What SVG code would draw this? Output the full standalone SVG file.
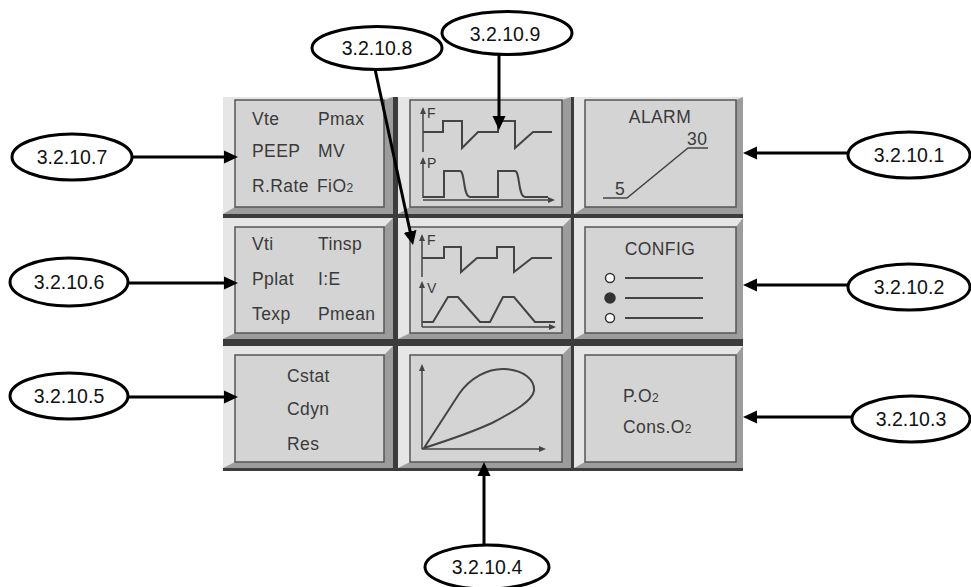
<svg xmlns="http://www.w3.org/2000/svg" width="971" height="587" viewBox="0 0 971 587">
<style>
.lt{fill:#e6e6e6}
.dk{fill:#9c9c9c}
.face{fill:#d4d4d4;stroke:#555;stroke-width:1.5}
.t{font-family:"Liberation Sans",Arial,sans-serif;font-size:17.5px;fill:#3a3a3a;letter-spacing:0.4px}
.ax{font-family:"Liberation Sans",Arial,sans-serif;font-size:14px;fill:#3a3a3a}
.w{fill:none;stroke:#444;stroke-width:2;stroke-linejoin:miter}
.axl{fill:none;stroke:#444;stroke-width:1.5}
.ell{fill:#fff;stroke:#000;stroke-width:3}
.lbl{font-family:"Liberation Sans",Arial,sans-serif;font-size:19.5px;fill:#111;text-anchor:middle}
.con{fill:none;stroke:#000;stroke-width:3}
</style>
<defs>
<marker id="ah" markerUnits="userSpaceOnUse" markerWidth="16" markerHeight="16" viewBox="0 -8 16 16" refX="1" refY="0" orient="auto"><path d="M0,-6.5 L14,0 L0,6.5 Z" fill="#000"/></marker>
<marker id="sa" markerUnits="userSpaceOnUse" markerWidth="9" markerHeight="9" viewBox="0 -4.5 9 9" refX="1" refY="0" orient="auto"><path d="M0,-3 L7,0 L0,3 Z" fill="#444"/></marker>
</defs>
<rect x="0" y="0" width="971" height="587" fill="#fff"/>
<rect id="panel" x="223" y="97" width="520" height="374" fill="#3c3c3c"/>

<!-- row 1 -->
<g id="cell-r1c1">
<rect class="dk" x="223" y="97" width="170" height="117"/>
<polygon class="lt" points="223,97 393,97 384,100 235,100 235,207 223,214"/>
<rect class="face" x="235" y="100" width="149" height="107"/>
<text class="t" x="252" y="125">Vte</text><text class="t" x="318" y="125">Pmax</text>
<text class="t" x="252" y="157">PEEP</text><text class="t" x="318" y="157">MV</text>
<text class="t" x="252" y="192">R.Rate</text><text class="t" x="317" y="192">FiO<tspan font-size="12">2</tspan></text>
</g>
<g id="cell-r1c2">
<rect class="dk" x="398" y="97" width="173" height="117"/>
<polygon class="lt" points="398,97 571,97 562,100 410,100 410,207 398,214"/>
<rect class="face" x="410" y="100" width="152" height="107"/>
<line class="axl" x1="423" y1="152" x2="423" y2="113" marker-end="url(#sa)"/>
<text class="ax" x="427" y="118">F</text>
<path class="w" d="M423,132 H443 V121 H462 V148 L478,132 H498 V121 H515 V148 L533,132 H552"/>
<line class="axl" x1="423" y1="198" x2="423" y2="163" marker-end="url(#sa)"/>
<text class="ax" x="427" y="168">P</text>
<path class="w" d="M423,197 H444 V171 H460 C465,171 463,197 470,197 H498 V171 H515 C520,171 518,197 525,197 H548"/>
<line class="axl" x1="423" y1="200" x2="549" y2="200" marker-end="url(#sa)"/>
</g>
<g id="cell-r1c3">
<rect class="dk" x="574" y="97" width="169" height="117"/>
<polygon class="lt" points="574,97 743,97 736,100 585,100 585,207 574,214"/>
<rect class="face" x="585" y="100" width="151" height="107"/>
<text class="t" x="660" y="123" text-anchor="middle">ALARM</text>
<polyline class="axl" points="603,198 627,198 688,148 708,148"/>
<text class="t" x="615" y="195">5</text>
<text class="t" x="687" y="145">30</text>
</g>

<!-- row 2 -->
<g id="cell-r2c1">
<rect class="dk" x="223" y="218" width="170" height="121"/>
<polygon class="lt" points="223,218 393,218 384,227 235,227 235,333 223,339"/>
<rect class="face" x="235" y="227" width="149" height="106"/>
<text class="t" x="252" y="250">Vti</text><text class="t" x="318" y="250">Tinsp</text>
<text class="t" x="252" y="285">Pplat</text><text class="t" x="318" y="285">I:E</text>
<text class="t" x="252" y="320">Texp</text><text class="t" x="318" y="320">Pmean</text>
</g>
<g id="cell-r2c2">
<rect class="dk" x="398" y="218" width="173" height="121"/>
<polygon class="lt" points="398,218 571,218 562,227 410,227 410,333 398,339"/>
<rect class="face" x="410" y="227" width="152" height="106"/>
<line class="axl" x1="422" y1="277" x2="422" y2="240" marker-end="url(#sa)"/>
<text class="ax" x="427" y="245">F</text>
<path class="w" d="M422,258 H444 V247 H461 V272 L477,258 H497 V247 H514 V272 L532,258 H552"/>
<line class="axl" x1="422" y1="327" x2="422" y2="287" marker-end="url(#sa)"/>
<text class="ax" x="427" y="293">V</text>
<path class="w" d="M422,322 H433 L448,297 H458 L480,322 H490 L503,297 H514 L535,322 H555"/>
<line class="axl" x1="422" y1="327" x2="550" y2="327" marker-end="url(#sa)"/>
</g>
<g id="cell-r2c3">
<rect class="dk" x="574" y="218" width="169" height="121"/>
<polygon class="lt" points="574,218 743,218 736,227 585,227 585,333 574,339"/>
<rect class="face" x="585" y="227" width="151" height="106"/>
<text class="t" x="660" y="255" text-anchor="middle">CONFIG</text>
<circle cx="610" cy="278" r="4.5" fill="#fff" stroke="#333" stroke-width="1.5"/>
<circle cx="610" cy="298" r="5" fill="#333" stroke="#333" stroke-width="1.5"/>
<circle cx="610" cy="318" r="4.5" fill="#fff" stroke="#333" stroke-width="1.5"/>
<line class="w" x1="625" y1="278" x2="703" y2="278"/>
<line class="w" x1="625" y1="298" x2="703" y2="298"/>
<line class="w" x1="625" y1="318" x2="703" y2="318"/>
</g>

<!-- row 3 -->
<g id="cell-r3c1">
<rect class="dk" x="223" y="346" width="170" height="122"/>
<polygon class="lt" points="223,346 393,346 384,355 235,355 235,462 223,468"/>
<rect class="face" x="235" y="355" width="149" height="107"/>
<text class="t" x="287" y="382">Cstat</text>
<text class="t" x="287" y="415">Cdyn</text>
<text class="t" x="287" y="450">Res</text>
</g>
<g id="cell-r3c2">
<rect class="dk" x="398" y="346" width="173" height="122"/>
<polygon class="lt" points="398,346 571,346 562,355 410,355 410,462 398,468"/>
<rect class="face" x="410" y="355" width="152" height="107"/>
<line class="axl" x1="422" y1="449" x2="422" y2="370" marker-end="url(#sa)"/>
<line class="axl" x1="422" y1="449" x2="540" y2="449" marker-end="url(#sa)"/>
<path class="w" d="M424,448 L459,394 C470,378 488,368 505,369 C524,370 535,380 534,391 C532,401 515,411 492,423 C470,433 446,441 424,448 Z"/>
</g>
<g id="cell-r3c3">
<rect class="dk" x="574" y="346" width="169" height="122"/>
<polygon class="lt" points="574,346 743,346 736,355 585,355 585,462 574,468"/>
<rect class="face" x="585" y="355" width="151" height="107"/>
<text class="t" x="623" y="402">P.O<tspan font-size="12">2</tspan></text>
<text class="t" x="623" y="433">Cons.O<tspan font-size="12">2</tspan></text>
</g>

<!-- connectors -->
<g id="connectors">
<line class="con" x1="132" y1="157" x2="225" y2="157" marker-end="url(#ah)"/>
<line class="con" x1="128" y1="283" x2="225" y2="283" marker-end="url(#ah)"/>
<line class="con" x1="128" y1="397" x2="225" y2="397" marker-end="url(#ah)"/>
<line class="con" x1="847" y1="153" x2="756" y2="153" marker-end="url(#ah)"/>
<line class="con" x1="847" y1="285" x2="756" y2="285" marker-end="url(#ah)"/>
<line class="con" x1="851" y1="417" x2="756" y2="417" marker-end="url(#ah)"/>
<line class="con" x1="375" y1="69" x2="410.3" y2="232.3" marker-end="url(#ah)"/>
<line class="con" x1="499" y1="55" x2="499" y2="117" marker-end="url(#ah)"/>
<line class="con" x1="484" y1="545" x2="484" y2="475" marker-end="url(#ah)"/>
</g>

<!-- label nodes -->
<g id="n-3.2.10.7"><ellipse class="ell" cx="72" cy="157" rx="60" ry="23"/><text class="lbl" x="72" y="164">3.2.10.7</text></g>
<g id="n-3.2.10.6"><ellipse class="ell" cx="69" cy="282" rx="59" ry="24"/><text class="lbl" x="69" y="289">3.2.10.6</text></g>
<g id="n-3.2.10.5"><ellipse class="ell" cx="69" cy="396" rx="59" ry="23"/><text class="lbl" x="69" y="403">3.2.10.5</text></g>
<g id="n-3.2.10.8"><ellipse class="ell" cx="377" cy="48" rx="65" ry="21.5"/><text class="lbl" x="377" y="55">3.2.10.8</text></g>
<g id="n-3.2.10.9"><ellipse class="ell" cx="507" cy="33" rx="65" ry="21.5"/><text class="lbl" x="505" y="41">3.2.10.9</text></g>
<g id="n-3.2.10.1"><ellipse class="ell" cx="909" cy="155" rx="61" ry="23"/><text class="lbl" x="909" y="162">3.2.10.1</text></g>
<g id="n-3.2.10.2"><ellipse class="ell" cx="909" cy="287" rx="61" ry="23"/><text class="lbl" x="909" y="294">3.2.10.2</text></g>
<g id="n-3.2.10.3"><ellipse class="ell" cx="911" cy="419" rx="59" ry="23"/><text class="lbl" x="911" y="426">3.2.10.3</text></g>
<g id="n-3.2.10.4"><ellipse class="ell" cx="487" cy="567" rx="62" ry="22"/><text class="lbl" x="487" y="574">3.2.10.4</text></g>
</svg>
